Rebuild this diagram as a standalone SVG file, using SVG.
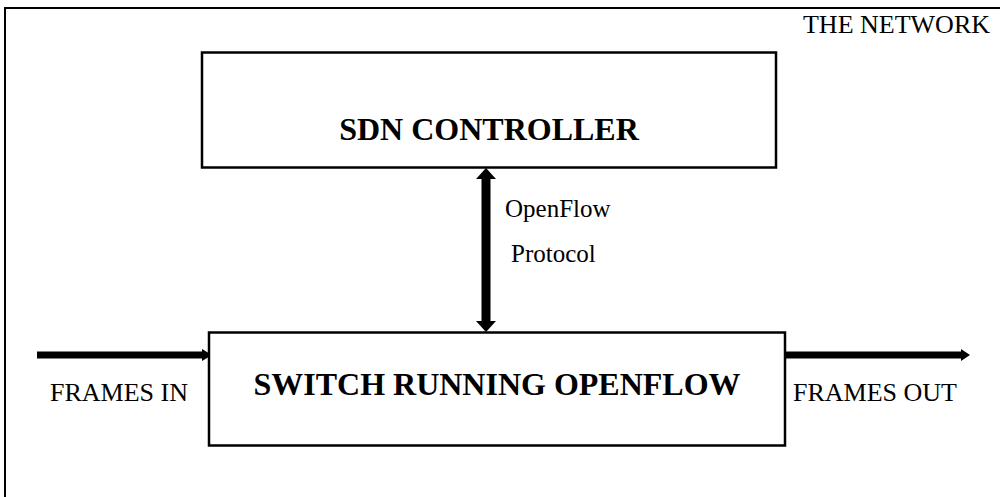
<svg xmlns="http://www.w3.org/2000/svg" width="1000" height="497" viewBox="0 0 1000 497">
  <style>
    .frame { fill: none; stroke: #000; stroke-width: 2; }
    .box { fill: #fff; stroke: #000; stroke-width: 2.5; }
    .title { font-family: "Liberation Serif", "Times New Roman", serif; font-weight: bold; font-size: 32px; fill: #000; }
    .label { font-family: "Liberation Serif", "Times New Roman", serif; font-size: 26px; fill: #000; }
    .small { font-family: "Liberation Serif", "Times New Roman", serif; font-size: 25px; fill: #000; }
    .shaft { stroke: #000; fill: none; }
    .head { fill: #000; stroke: none; }
  </style>

  <!-- outer boundary of the network -->
  <path class="frame" d="M5,497 V8 H1000"/>
  <text class="label" x="990" y="33" text-anchor="end">THE NETWORK</text>

  <!-- connectors -->
  <g id="connectors">
    <!-- OpenFlow protocol link (bidirectional) -->
    <g id="link-openflow">
      <line class="shaft" x1="486" y1="176" x2="486" y2="323" stroke-width="9"/>
      <polygon class="head" points="486,168 496,179 476,179"/>
      <polygon class="head" points="486,332 496,321 476,321"/>
    </g>
    <!-- frames in -->
    <g id="link-in">
      <line class="shaft" x1="37" y1="355" x2="203" y2="355" stroke-width="7"/>
      <polygon class="head" points="212,355 202,349 202,361"/>
    </g>
    <!-- frames out -->
    <g id="link-out">
      <line class="shaft" x1="785" y1="355" x2="962" y2="355" stroke-width="7"/>
      <polygon class="head" points="970,355 961,349 961,361"/>
    </g>
  </g>

  <g id="controller">
    <rect class="box" x="202" y="52.5" width="574" height="115"/>
    <text class="title" x="489" y="140" text-anchor="middle">SDN CONTROLLER</text>
  </g>

  <g id="switch">
    <rect class="box" x="209" y="332.5" width="576" height="113"/>
    <text class="title" x="497" y="395" text-anchor="middle">SWITCH RUNNING OPENFLOW</text>
  </g>

  <g id="labels">
    <text class="small" x="505" y="217">OpenFlow</text>
    <text class="small" x="511" y="262">Protocol</text>
    <text class="label" x="50" y="401">FRAMES IN</text>
    <text class="label" x="793" y="401">FRAMES OUT</text>
  </g>
</svg>
